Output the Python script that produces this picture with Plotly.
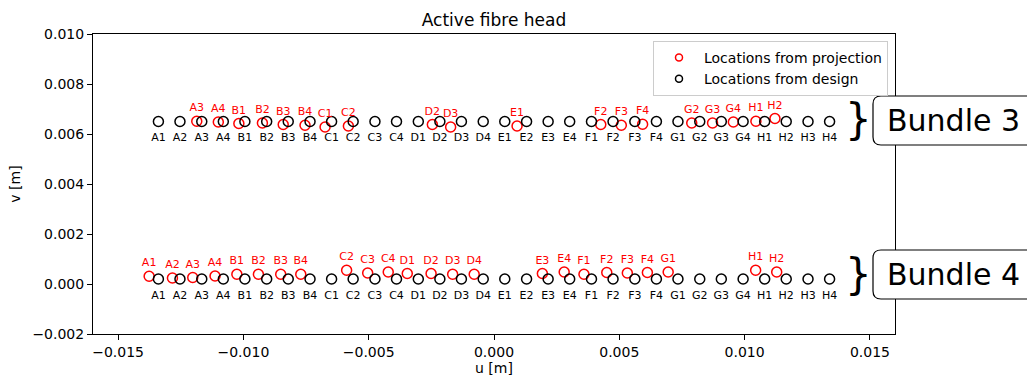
import plotly.graph_objects as go

# Fibre names along each bundle (design order)
design_labels = [
    "A1", "A2", "A3", "A4", "B1", "B2", "B3", "B4",
    "C1", "C2", "C3", "C4", "D1", "D2", "D3", "D4",
    "E1", "E2", "E3", "E4", "F1", "F2", "F3", "F4",
    "G1", "G2", "G3", "G4", "H1", "H2", "H3", "H4",
]
# Design u positions [m], shared by both bundles
design_u = [
    -0.01339, -0.01253, -0.01166, -0.01080, -0.00994, -0.00907, -0.00821, -0.00734,
    -0.00648, -0.00562, -0.00475, -0.00389, -0.00302, -0.00216, -0.00130, -0.00043,
    0.00043, 0.00130, 0.00216, 0.00302, 0.00389, 0.00475, 0.00562, 0.00648,
    0.00734, 0.00821, 0.00907, 0.00994, 0.01080, 0.01166, 0.01253, 0.01339,
]
bundle3_design_v = 0.0065
bundle4_design_v = 0.0002

# Bundle 3: fibres located from the projection
b3_proj_labels = ["A3", "A4", "B1", "B2", "B3", "B4", "C1", "C2", "D2", "D3",
                  "E1", "F2", "F3", "F4", "G2", "G3", "G4", "H1", "H2"]
b3_proj_u = [-0.01186, -0.01100, -0.01018, -0.00924, -0.00841, -0.00754, -0.00674, -0.00581,
             -0.00246, -0.00173, 0.00092, 0.00426, 0.00508, 0.00593, 0.00789, 0.00872,
             0.00955, 0.01045, 0.01121]
b3_proj_v = [0.00651, 0.00648, 0.00642, 0.00644, 0.00638, 0.00635, 0.00628, 0.00632,
             0.00638, 0.00628, 0.00632, 0.00638, 0.00635, 0.00639, 0.00644, 0.00644,
             0.00648, 0.00651, 0.00662]

# Bundle 4: fibres located from the projection
b4_proj_labels = ["A1", "A2", "A3", "A4", "B1", "B2", "B3", "B4", "C2", "C3", "C4", "D1",
                  "D2", "D3", "D4", "E3", "E4", "F1", "F2", "F3", "F4", "G1", "H1", "H2"]
b4_proj_u = [-0.01376, -0.01283, -0.01202, -0.01113, -0.01026, -0.00940, -0.00851, -0.00771,
             -0.00588, -0.00504, -0.00422, -0.00346, -0.00251, -0.00165, -0.00079, 0.00193,
             0.00280, 0.00359, 0.00450, 0.00532, 0.00612, 0.00695, 0.01044, 0.01128]
b4_proj_v = [0.00031, 0.00024, 0.00026, 0.00032, 0.00039, 0.00039, 0.00039, 0.00039,
             0.00055, 0.00044, 0.00048, 0.00042, 0.00042, 0.00039, 0.00039, 0.00042,
             0.00048, 0.00039, 0.00046, 0.00044, 0.00046, 0.00048, 0.00055, 0.00048]

FONT = "DejaVu Sans"
RED = "#ff0000"
BLACK = "#000000"

W, H = 1027, 376
ML, MR, MT, MB = 93, 132, 34, 42
X_RANGE = [-0.016, 0.016]
Y_RANGE = [-0.002, 0.010]


def circles(x, y, color):
    return go.Scatter(
        x=x, y=y, mode="markers",
        marker=dict(symbol="circle-open", size=10, color=color, line=dict(width=1.5, color=color)),
        showlegend=False, hoverinfo="skip",
    )


def names(x, y, labels, color, pos, gap):
    # invisible marker of diameter `gap` sets how far the name sits from the point
    return go.Scatter(
        x=x, y=y, mode="markers+text", text=labels, textposition=pos,
        textfont=dict(family=FONT, size=11, color=color),
        marker=dict(size=gap, opacity=0),
        showlegend=False, hoverinfo="skip",
    )


b3_design_v = [bundle3_design_v] * len(design_u)
b4_design_v = [bundle4_design_v] * len(design_u)

fig = go.Figure()
fig.add_trace(circles(b3_proj_u, b3_proj_v, RED))
fig.add_trace(circles(b4_proj_u, b4_proj_v, RED))
fig.add_trace(circles(design_u, b3_design_v, BLACK))
fig.add_trace(circles(design_u, b4_design_v, BLACK))
fig.add_trace(names(b3_proj_u, b3_proj_v, b3_proj_labels, RED, "top center", 10))
fig.add_trace(names(b4_proj_u, b4_proj_v, b4_proj_labels, RED, "top center", 10))
fig.add_trace(names(design_u, b3_design_v, design_labels, BLACK, "bottom center", 17))
fig.add_trace(names(design_u, b4_design_v, design_labels, BLACK, "bottom center", 17))

# Legend entries
for name, color in [("Locations from projection", RED), ("Locations from design", BLACK)]:
    fig.add_trace(go.Scatter(
        x=[None], y=[None], mode="markers", name=name,
        marker=dict(symbol="circle-open", size=7, color=color, line=dict(width=1.5, color=color)),
    ))

# Pixel helpers for the bundle callouts placed outside the axes
plot_w = W - ML - MR
plot_h = H - MT - MB


def px_x(px):
    return (px - ML) / plot_w


def px_y(py):
    return (H - MB - py) / plot_h


def rounded_box(x0, y0, x1, y1, r):
    # pixel corners -> paper coordinates
    X0, X1 = px_x(x0), px_x(x1)
    Y0, Y1 = px_y(y0), px_y(y1)
    rx, ry = r / plot_w, r / plot_h
    return (f"M {X0 + rx},{Y0} L {X1 - rx},{Y0} Q {X1},{Y0} {X1},{Y0 - ry} "
            f"L {X1},{Y1 + ry} Q {X1},{Y1} {X1 - rx},{Y1} L {X0 + rx},{Y1} "
            f"Q {X0},{Y1} {X0},{Y1 + ry} L {X0},{Y0 - ry} Q {X0},{Y0} {X0 + rx},{Y0} Z")


callouts = [("Bundle 3", 96, 145, 120), ("Bundle 4", 250, 299, 274)]
for text, top, bottom, brace_y in callouts:
    fig.add_shape(type="path", xref="paper", yref="paper",
                  path=rounded_box(873, top, 1045, bottom, 8),
                  line=dict(color=BLACK, width=1.2), fillcolor="white", layer="above")
    fig.add_annotation(xref="paper", yref="paper", x=px_x(885), y=px_y((top + bottom) / 2),
                       text=text, showarrow=False, xanchor="left", yanchor="middle",
                       font=dict(family=FONT, size=30, color=BLACK))
    fig.add_annotation(xref="paper", yref="paper", x=px_x(858), y=px_y(brace_y),
                       text="}", showarrow=False, xanchor="center", yanchor="middle",
                       font=dict(family=FONT, size=42, color=BLACK))

axis_common = dict(
    showgrid=False, zeroline=False, showline=True, mirror=True, automargin=False,
    linecolor=BLACK, linewidth=1, ticks="outside", ticklen=5, tickcolor=BLACK,
    tickfont=dict(family=FONT, size=14, color=BLACK), tickformat=".3f",
)

fig.update_layout(
    width=W, height=H,
    margin=dict(l=ML, r=MR, t=MT, b=MB, autoexpand=False),
    paper_bgcolor="white", plot_bgcolor="white",
    font=dict(family=FONT, color=BLACK),
    title=dict(text="Active fibre head", x=(ML + plot_w / 2) / W, xanchor="center",
               y=1 - 20 / H, yanchor="middle", font=dict(family=FONT, size=17, color=BLACK)),
    xaxis=dict(range=X_RANGE, dtick=0.005, tick0=0,
               title=dict(text="u [m]", font=dict(family=FONT, size=14), standoff=4),
               **axis_common),
    yaxis=dict(range=Y_RANGE, dtick=0.002, tick0=0,
               title=dict(text="v [m]", font=dict(family=FONT, size=14), standoff=8),
               **axis_common),
    legend=dict(x=px_x(888), xanchor="right", y=px_y(41), yanchor="top", itemwidth=40,
                bordercolor="#cccccc", borderwidth=1, bgcolor="rgba(255,255,255,0.8)",
                font=dict(family=FONT, size=14, color=BLACK)),
)

fig.write_html("out.html")
